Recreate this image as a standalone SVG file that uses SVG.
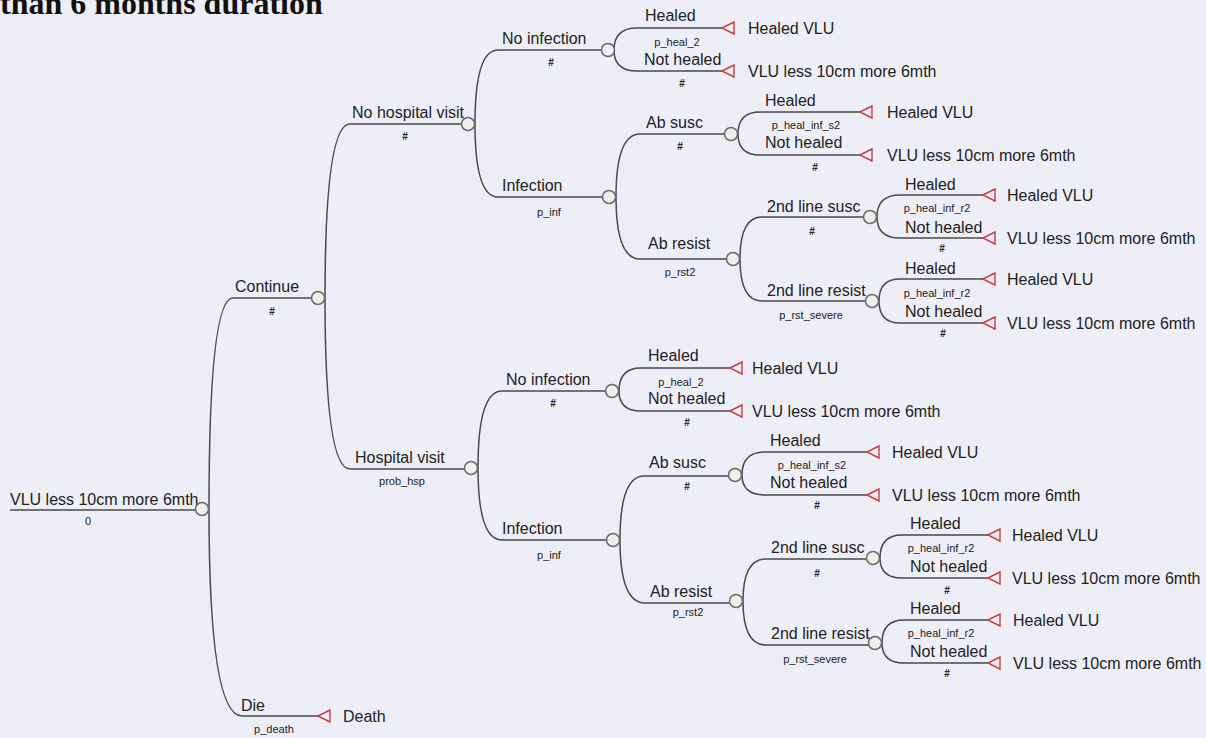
<svg xmlns="http://www.w3.org/2000/svg" width="1206" height="738" viewBox="0 0 1206 738">
<style>
.bg{fill:#eeeef7}
.ln{fill:none;stroke:#4a4a4a;stroke-width:1.5}
.ch{fill:#eef0ec;stroke:#6a6a6a;stroke-width:1.5}
.tm{fill:none;stroke:#d03a3a;stroke-width:1.4}
text{font-family:"Liberation Sans",Arial,sans-serif;fill:#222}
.lb{font-size:16px}
.sm{font-size:11px}
.hs{font-size:10px;font-weight:bold}
.ti{font-family:"Liberation Serif","Times New Roman",serif;font-size:32px;font-weight:bold;fill:#111}
</style>
<defs>
<polygon id="term" class="tm" points="0,0 12,-6 12,6"/>
</defs>
<rect class="bg" x="0" y="0" width="1206" height="738"/>
<text class="ti" x="0" y="14">than 6 months duration</text>

<g id="connectors">
<path class="ln" d="M10,510 H195.5"/>
<path class="ln" d="M209,509 Q209,298 233,298 H311.5"/>
<path class="ln" d="M209,509 Q209,716 242,716 H318"/>
<path class="ln" d="M325,298 Q325,124 350,124 H461.5"/>
<path class="ln" d="M325,298 Q325,469 350,469 H464.5"/>
<path class="ln" d="M475,124 Q475,50 498,50 H601.5"/>
<path class="ln" d="M475,124 Q475,197 498,197 H602.5"/>
<path class="ln" d="M614,50 Q614,28 637,28 H722"/>
<path class="ln" d="M614,50 Q614,71 637,71 H722"/>
<path class="ln" d="M616,197 Q616,134 640,134 H724.5"/>
<path class="ln" d="M616,197 Q616,259 640,259 H726.5"/>
<path class="ln" d="M738,134 Q738,112 760,112 H860"/>
<path class="ln" d="M738,134 Q738,155 760,155 H860"/>
<path class="ln" d="M740,259 Q740,217 762,217 H863.5"/>
<path class="ln" d="M740,259 Q740,301 762,301 H865.5"/>
<path class="ln" d="M877,217 Q877,195 900,195 H983"/>
<path class="ln" d="M877,217 Q877,238 900,238 H983"/>
<path class="ln" d="M879,301 Q879,279 900,279 H983"/>
<path class="ln" d="M879,301 Q879,323 900,323 H983"/>
<path class="ln" d="M478,468 Q478,391 502,391 H605.5"/>
<path class="ln" d="M478,468 Q478,540 502,540 H606.5"/>
<path class="ln" d="M619,391 Q619,368 641,368 H730"/>
<path class="ln" d="M619,391 Q619,411 641,411 H730"/>
<path class="ln" d="M620,540 Q620,476 644,476 H728.5"/>
<path class="ln" d="M620,540 Q620,603 645,603 H729.5"/>
<path class="ln" d="M742,475 Q742,452 765,452 H867"/>
<path class="ln" d="M742,475 Q742,495 765,495 H867"/>
<path class="ln" d="M743,601 Q743,559 766,559 H866.5"/>
<path class="ln" d="M743,601 Q743,645 766,645 H868.5"/>
<path class="ln" d="M880,558 Q880,535 902,535 H988"/>
<path class="ln" d="M880,558 Q880,578 902,578 H988"/>
<path class="ln" d="M882,643 Q882,620 904,620 H988"/>
<path class="ln" d="M882,643 Q882,663 904,663 H988"/>
</g>

<g id="root">
<text class="lb" x="10" y="505">VLU less 10cm more 6mth</text>
<text class="sm" x="88" y="525" text-anchor="middle">0</text>
<circle class="ch" cx="202" cy="509" r="6.5"/>
</g>

<g id="continue">
<text class="lb" x="235" y="292">Continue</text>
<text class="hs" x="272" y="315" text-anchor="middle">#</text>
<circle class="ch" cx="318" cy="298" r="6.5"/>
</g>

<g id="die">
<text class="lb" x="241" y="711">Die</text>
<text class="sm" x="274" y="733" text-anchor="middle">p_death</text>
<use href="#term" x="318" y="716"/>
<text class="lb" x="343" y="722">Death</text>
</g>

<g id="no-hospital-visit">
<text class="lb" x="352" y="118">No hospital visit</text>
<text class="hs" x="405" y="140" text-anchor="middle">#</text>
<circle class="ch" cx="468" cy="124" r="6.5"/>
</g>

<g id="hospital-visit">
<text class="lb" x="355" y="463">Hospital visit</text>
<text class="sm" x="402" y="485" text-anchor="middle">prob_hsp</text>
<circle class="ch" cx="471" cy="468" r="6.5"/>
</g>

<!-- No hospital visit subtree -->
<g id="nhv-no-infection">
<text class="lb" x="502" y="44">No infection</text>
<text class="hs" x="551" y="66" text-anchor="middle">#</text>
<circle class="ch" cx="608" cy="50" r="6.5"/>
</g>
<g id="nhv-ni-healed">
<text class="lb" x="645" y="21">Healed</text>
<text class="sm" x="677" y="46" text-anchor="middle">p_heal_2</text>
<use href="#term" x="722" y="28"/>
<text class="lb" x="748" y="34">Healed VLU</text>
</g>
<g id="nhv-ni-not-healed">
<text class="lb" x="644" y="65">Not healed</text>
<text class="hs" x="682" y="87" text-anchor="middle">#</text>
<use href="#term" x="722" y="71"/>
<text class="lb" x="748" y="77">VLU less 10cm more 6mth</text>
</g>
<g id="nhv-infection">
<text class="lb" x="502" y="191">Infection</text>
<text class="sm" x="549" y="216" text-anchor="middle">p_inf</text>
<circle class="ch" cx="609" cy="197" r="6.5"/>
</g>
<g id="nhv-ab-susc">
<text class="lb" x="646" y="128">Ab susc</text>
<text class="hs" x="680" y="150" text-anchor="middle">#</text>
<circle class="ch" cx="731" cy="134" r="6.5"/>
</g>
<g id="nhv-abs-healed">
<text class="lb" x="765" y="106">Healed</text>
<text class="sm" x="806" y="129" text-anchor="middle">p_heal_inf_s2</text>
<use href="#term" x="860" y="112"/>
<text class="lb" x="887" y="118">Healed VLU</text>
</g>
<g id="nhv-abs-not-healed">
<text class="lb" x="765" y="148">Not healed</text>
<text class="hs" x="815" y="171" text-anchor="middle">#</text>
<use href="#term" x="860" y="155"/>
<text class="lb" x="887" y="161">VLU less 10cm more 6mth</text>
</g>
<g id="nhv-ab-resist">
<text class="lb" x="648" y="249">Ab resist</text>
<text class="sm" x="680" y="276" text-anchor="middle">p_rst2</text>
<circle class="ch" cx="733" cy="259" r="6.5"/>
</g>
<g id="nhv-2nd-susc">
<text class="lb" x="767" y="212">2nd line susc</text>
<text class="hs" x="812" y="235" text-anchor="middle">#</text>
<circle class="ch" cx="870" cy="217" r="6.5"/>
</g>
<g id="nhv-2s-healed">
<text class="lb" x="905" y="190">Healed</text>
<text class="sm" x="937" y="212" text-anchor="middle">p_heal_inf_r2</text>
<use href="#term" x="983" y="195"/>
<text class="lb" x="1007" y="201">Healed VLU</text>
</g>
<g id="nhv-2s-not-healed">
<text class="lb" x="905" y="233">Not healed</text>
<text class="hs" x="942" y="252" text-anchor="middle">#</text>
<use href="#term" x="983" y="238"/>
<text class="lb" x="1007" y="244">VLU less 10cm more 6mth</text>
</g>
<g id="nhv-2nd-resist">
<text class="lb" x="767" y="296">2nd line resist</text>
<text class="sm" x="811" y="319" text-anchor="middle">p_rst_severe</text>
<circle class="ch" cx="872" cy="301" r="6.5"/>
</g>
<g id="nhv-2r-healed">
<text class="lb" x="905" y="274">Healed</text>
<text class="sm" x="937" y="297" text-anchor="middle">p_heal_inf_r2</text>
<use href="#term" x="983" y="279"/>
<text class="lb" x="1007" y="285">Healed VLU</text>
</g>
<g id="nhv-2r-not-healed">
<text class="lb" x="905" y="317">Not healed</text>
<text class="hs" x="943" y="337" text-anchor="middle">#</text>
<use href="#term" x="983" y="323"/>
<text class="lb" x="1007" y="329">VLU less 10cm more 6mth</text>
</g>

<!-- Hospital visit subtree -->
<g id="hv-no-infection">
<text class="lb" x="506" y="385">No infection</text>
<text class="hs" x="553" y="407" text-anchor="middle">#</text>
<circle class="ch" cx="612" cy="391" r="6.5"/>
</g>
<g id="hv-ni-healed">
<text class="lb" x="648" y="361">Healed</text>
<text class="sm" x="681" y="386" text-anchor="middle">p_heal_2</text>
<use href="#term" x="730" y="368"/>
<text class="lb" x="752" y="374">Healed VLU</text>
</g>
<g id="hv-ni-not-healed">
<text class="lb" x="648" y="404">Not healed</text>
<text class="hs" x="687" y="426" text-anchor="middle">#</text>
<use href="#term" x="730" y="411"/>
<text class="lb" x="752" y="417">VLU less 10cm more 6mth</text>
</g>
<g id="hv-infection">
<text class="lb" x="502" y="534">Infection</text>
<text class="sm" x="549" y="559" text-anchor="middle">p_inf</text>
<circle class="ch" cx="613" cy="540" r="6.5"/>
</g>
<g id="hv-ab-susc">
<text class="lb" x="649" y="468">Ab susc</text>
<text class="hs" x="687" y="490" text-anchor="middle">#</text>
<circle class="ch" cx="735" cy="475" r="6.5"/>
</g>
<g id="hv-abs-healed">
<text class="lb" x="770" y="446">Healed</text>
<text class="sm" x="812" y="469" text-anchor="middle">p_heal_inf_s2</text>
<use href="#term" x="867" y="452"/>
<text class="lb" x="892" y="458">Healed VLU</text>
</g>
<g id="hv-abs-not-healed">
<text class="lb" x="770" y="488">Not healed</text>
<text class="hs" x="817" y="509" text-anchor="middle">#</text>
<use href="#term" x="867" y="495"/>
<text class="lb" x="892" y="501">VLU less 10cm more 6mth</text>
</g>
<g id="hv-ab-resist">
<text class="lb" x="650" y="597">Ab resist</text>
<text class="sm" x="688" y="616" text-anchor="middle">p_rst2</text>
<circle class="ch" cx="736" cy="601" r="6.5"/>
</g>
<g id="hv-2nd-susc">
<text class="lb" x="771" y="553">2nd line susc</text>
<text class="hs" x="817" y="577" text-anchor="middle">#</text>
<circle class="ch" cx="873" cy="558" r="6.5"/>
</g>
<g id="hv-2s-healed">
<text class="lb" x="910" y="529">Healed</text>
<text class="sm" x="941" y="552" text-anchor="middle">p_heal_inf_r2</text>
<use href="#term" x="988" y="535"/>
<text class="lb" x="1012" y="541">Healed VLU</text>
</g>
<g id="hv-2s-not-healed">
<text class="lb" x="910" y="572">Not healed</text>
<text class="hs" x="947" y="594" text-anchor="middle">#</text>
<use href="#term" x="988" y="578"/>
<text class="lb" x="1012" y="584">VLU less 10cm more 6mth</text>
</g>
<g id="hv-2nd-resist">
<text class="lb" x="771" y="639">2nd line resist</text>
<text class="sm" x="815" y="663" text-anchor="middle">p_rst_severe</text>
<circle class="ch" cx="875" cy="643" r="6.5"/>
</g>
<g id="hv-2r-healed">
<text class="lb" x="910" y="614">Healed</text>
<text class="sm" x="941" y="637" text-anchor="middle">p_heal_inf_r2</text>
<use href="#term" x="988" y="620"/>
<text class="lb" x="1013" y="626">Healed VLU</text>
</g>
<g id="hv-2r-not-healed">
<text class="lb" x="910" y="657">Not healed</text>
<text class="hs" x="947" y="677" text-anchor="middle">#</text>
<use href="#term" x="988" y="663"/>
<text class="lb" x="1013" y="669">VLU less 10cm more 6mth</text>
</g>
</svg>
